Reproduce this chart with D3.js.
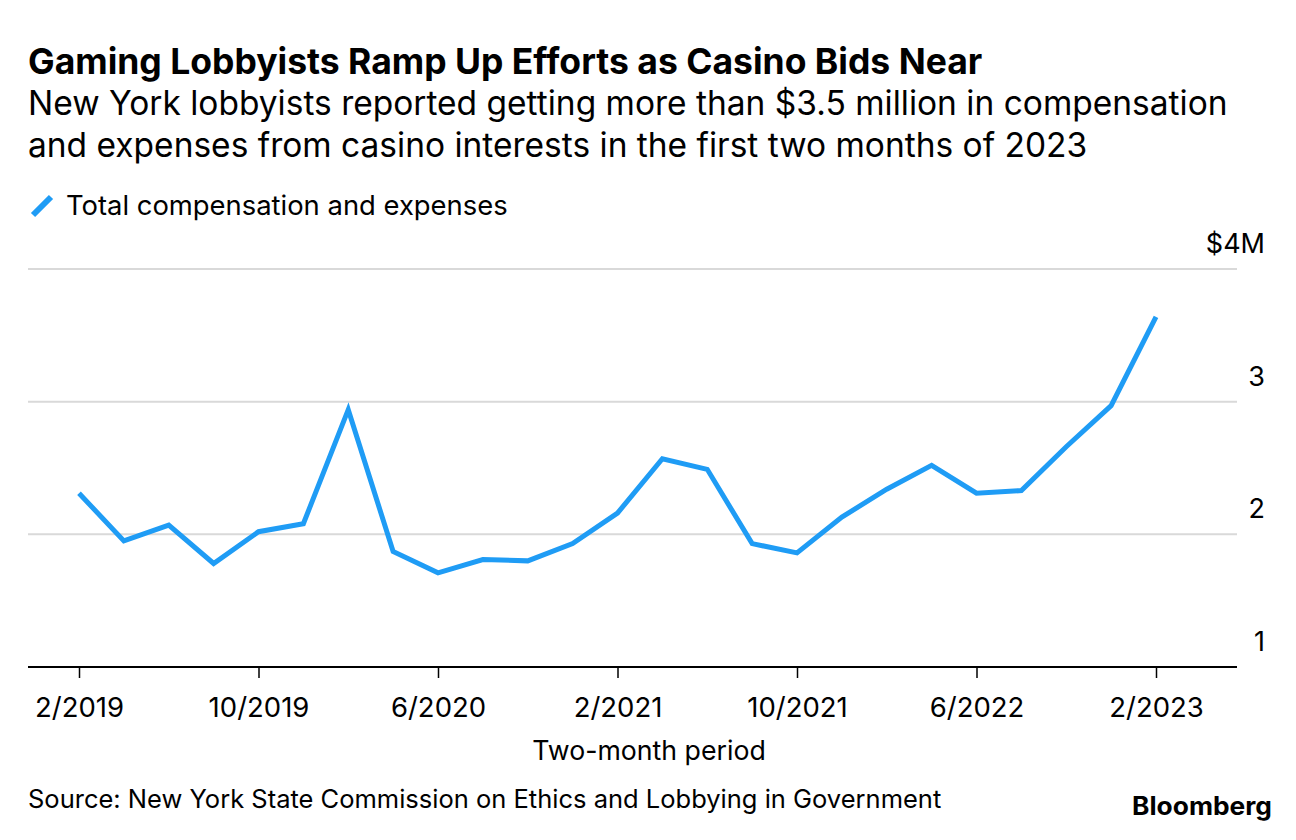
<!DOCTYPE html>
<html>
<head>
<meta charset="utf-8">
<script src="https://cdn.jsdelivr.net/npm/d3@7"></script>
<style>
  html, body { margin: 0; padding: 0; background: #fff; }
  svg { display: block; font-family: Inter, "Liberation Sans", Arial, sans-serif; }
</style>
</head>
<body>
<svg id="chart" width="1296" height="840"></svg>
<script>
// ---- data ----
const periods = ["2/2019","4/2019","6/2019","8/2019","10/2019","12/2019",
  "2/2020","4/2020","6/2020","8/2020","10/2020","12/2020",
  "2/2021","4/2021","6/2021","8/2021","10/2021","12/2021",
  "2/2022","4/2022","6/2022","8/2022","10/2022","12/2022","2/2023"];
const values = [2.31, 1.95, 2.07, 1.78, 2.02, 2.08,
  2.94, 1.87, 1.71, 1.81, 1.80, 1.93,
  2.16, 2.57, 2.49, 1.93, 1.86, 2.13,
  2.34, 2.52, 2.31, 2.33, 2.66, 2.97, 3.64];
const xTickLabels = ["2/2019","10/2019","6/2020","2/2021","10/2021","6/2022","2/2023"];
const yTicks = [1, 2, 3, 4];
const yTickLabels = ["1", "2", "3", "$4M"];
const seriesName = "Total compensation and expenses";

const svg = d3.select("#chart");
const blue = "#1f9cf5";

const plotLeft = 28, plotRight = 1237;
const x = d3.scalePoint().domain(periods).range([79, 1156]);
const y = d3.scaleLinear().domain([1, 4]).range([667, 269]);

// title
svg.append("text").attr("x", 28).attr("y", 74)
  .attr("font-size", 35.5).attr("font-weight", "bold").attr("fill", "#000")
  .text("Gaming Lobbyists Ramp Up Efforts as Casino Bids Near");
const sub = ["New York lobbyists reported getting more than $3.5 million in compensation",
  "and expenses from casino interests in the first two months of 2023"];
sub.forEach((s, i) => {
  svg.append("text").attr("x", 28).attr("y", 115 + i * 42)
    .attr("font-size", 33.5).attr("fill", "#000").text(s);
});

// legend
svg.append("line").attr("x1", 33).attr("y1", 215).attr("x2", 51).attr("y2", 197)
  .attr("stroke", blue).attr("stroke-width", 6);
svg.append("text").attr("x", 66).attr("y", 215)
  .attr("font-size", 27.4).attr("fill", "#000").text(seriesName);

// gridlines
const gridG = svg.append("g");
gridG.selectAll("line").data(yTicks.filter(d => d !== 1)).enter().append("line")
  .attr("x1", plotLeft).attr("x2", plotRight)
  .attr("y1", d => y(d)).attr("y2", d => y(d))
  .attr("stroke", "#d9d9d9").attr("stroke-width", 2);

// y labels
svg.append("g").selectAll("text").data(yTicks).enter().append("text")
  .attr("x", 1265).attr("y", d => y(d) - 16)
  .attr("text-anchor", "end").attr("font-size", 27).attr("fill", "#000")
  .text((d, i) => yTickLabels[i]);

// x axis
const xAxis = d3.axisBottom(x).tickValues(xTickLabels).tickSize(11).tickPadding(19).tickSizeOuter(0);
const xg = svg.append("g").attr("transform", `translate(0,${y(1)})`).call(xAxis);
xg.select(".domain").remove();
xg.selectAll(".tick line").attr("stroke", "#000").attr("stroke-width", 1.5);
xg.selectAll(".tick text").attr("font-size", 27.5).attr("fill", "#000")
  .attr("font-family", "Inter, Liberation Sans, Arial, sans-serif");
svg.append("line").attr("x1", plotLeft).attr("x2", plotRight)
  .attr("y1", y(1)).attr("y2", y(1)).attr("stroke", "#000").attr("stroke-width", 2);

svg.append("text").attr("x", 649).attr("y", 760)
  .attr("text-anchor", "middle").attr("font-size", 26.7).attr("fill", "#000")
  .text("Two-month period");

// line
const line = d3.line().x((d, i) => x(periods[i])).y(d => y(d));
svg.append("path").datum(values).attr("d", line)
  .attr("fill", "none").attr("stroke", blue).attr("stroke-width", 5)
  .attr("stroke-linejoin", "miter");

// footer
svg.append("text").attr("x", 28).attr("y", 808)
  .attr("font-size", 25.5).attr("fill", "#000")
  .text("Source: New York State Commission on Ethics and Lobbying in Government");
svg.append("text").attr("x", 1272).attr("y", 815).attr("text-anchor", "end")
  .attr("font-size", 25).attr("font-weight", "bold").attr("fill", "#000")
  .attr("textLength", 140).attr("lengthAdjust", "spacingAndGlyphs")
  .text("Bloomberg");
</script>
</body>
</html>
